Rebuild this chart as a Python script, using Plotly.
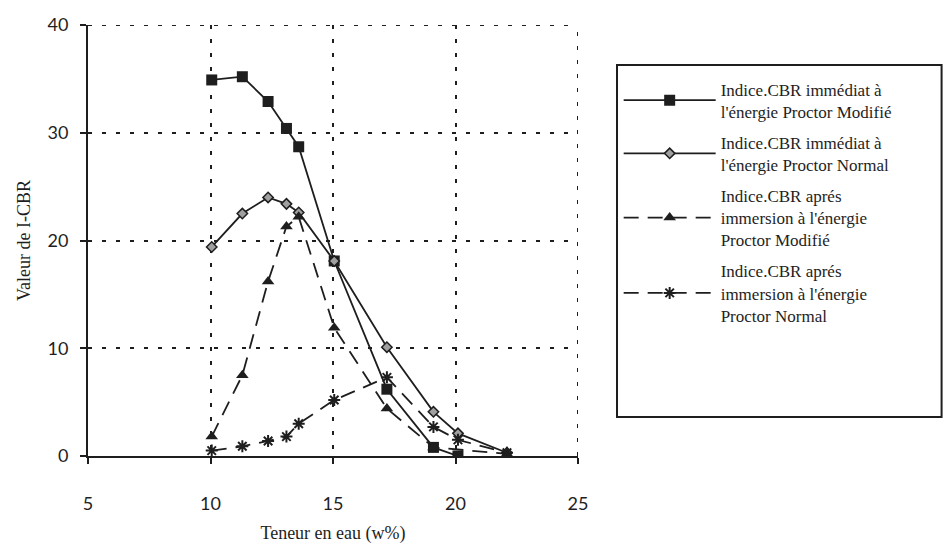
import plotly.graph_objects as go

# Water content (w%) for each series
x_mod_imm = [10.05, 11.3, 12.35, 13.1, 13.6, 15.05, 17.2, 19.1, 20.1]
y_mod_imm = [34.9, 35.2, 32.9, 30.4, 28.7, 18.1, 6.2, 0.8, 0.0]

x_norm_imm = [10.05, 11.3, 12.35, 13.1, 13.6, 15.05, 17.2, 19.1, 20.1, 22.1]
y_norm_imm = [19.4, 22.5, 24.0, 23.4, 22.6, 18.1, 10.1, 4.1, 2.1, 0.3]

x_mod_sat = [10.05, 11.3, 12.35, 13.1, 13.6, 15.05, 17.2, 19.1, 22.1]
y_mod_sat = [1.8, 7.5, 16.2, 21.3, 22.2, 11.9, 4.4, 0.8, 0.2]

x_norm_sat = [10.05, 11.3, 12.35, 13.1, 13.6, 15.05, 17.2, 19.1, 20.1, 22.1]
y_norm_sat = [0.5, 0.9, 1.4, 1.8, 3.0, 5.2, 7.3, 2.7, 1.5, 0.3]

names = [
    "Indice.CBR immédiat à<br>l'énergie Proctor Modifié",
    "Indice.CBR immédiat à<br>l'énergie Proctor Normal",
    "Indice.CBR aprés<br>immersion à l'énergie<br>Proctor Modifié",
    "Indice.CBR aprés<br>immersion à l'énergie<br>Proctor Normal",
]

x_ticks = [5, 10, 15, 20, 25]
y_ticks = [0, 10, 20, 30, 40]

INK = "#1e1e1e"
serif = "Liberation Serif, serif"
sans = "Lato, sans-serif"

fig = go.Figure()
fig.add_trace(go.Scatter(
    x=x_mod_imm, y=y_mod_imm, name=names[0], mode="lines+markers",
    line=dict(color=INK, width=1.8),
    marker=dict(symbol="square", size=11, color=INK),
    legendgroup="a",
))
fig.add_trace(go.Scatter(
    x=x_norm_imm, y=y_norm_imm, name=names[1], mode="lines+markers",
    line=dict(color=INK, width=1.8),
    marker=dict(symbol="diamond", size=8, color="#a0a0a0", line=dict(color=INK, width=1.5)),
    legendgroup="b",
))
fig.add_trace(go.Scatter(
    x=x_mod_sat, y=y_mod_sat, name=names[2], mode="lines+markers",
    line=dict(color=INK, width=1.8, dash="15px,9px"),
    marker=dict(symbol="triangle-up", size=11, color=INK),
    legendgroup="c",
))
fig.add_trace(go.Scatter(
    x=x_norm_sat, y=y_norm_sat, name=names[3], mode="lines+markers",
    line=dict(color=INK, width=1.8, dash="15px,9px"),
    marker=dict(symbol="asterisk-open", size=10, line=dict(color=INK, width=2)),
    legendgroup="d",
))

# legend frame (paper coordinates of the plot area)
fig.add_shape(type="rect", xref="paper", yref="paper",
              x0=1.0796, x1=1.742, y0=0.0905, y1=0.907,
              line=dict(color=INK, width=2), fillcolor="rgba(0,0,0,0)")
# gridlines at the range edges (top and right)
fig.add_shape(type="line", xref="paper", yref="y", x0=0, x1=1, y0=40, y1=40,
              line=dict(color=INK, width=2, dash="4px,10px"))
fig.add_shape(type="line", xref="x", yref="paper", x0=25, x1=25, y0=0, y1=1,
              line=dict(color=INK, width=2, dash="4px,10px"))

fig.update_layout(
    width=945, height=552,
    margin=dict(l=88, r=367, t=25, b=85),
    paper_bgcolor="white", plot_bgcolor="white",
    font=dict(family=serif, color=INK),
    showlegend=True,
    legend=dict(
        x=1.083, y=0.892, xanchor="left", yanchor="top",
        borderwidth=0, bgcolor="rgba(0,0,0,0)",
        font=dict(family=serif, size=17, color=INK),
        tracegroupgap=6, itemwidth=92,
    ),
    xaxis=dict(
        range=[5, 25], tickvals=x_ticks, ticktext=[str(v) for v in x_ticks],
        showline=True, linecolor=INK, linewidth=2,
        ticks="outside", ticklen=6, tickcolor=INK, tickwidth=1.5,
        ticklabelstandoff=24,
        showgrid=True, gridcolor=INK, griddash="4px,10px", gridwidth=2,
        zeroline=False,
        tickfont=dict(family=sans, size=18, color=INK),
        title=dict(text="Teneur en eau (w%)", font=dict(family=serif, size=18, color=INK), standoff=14),
    ),
    yaxis=dict(
        range=[0, 40], tickvals=y_ticks, ticktext=[str(v) for v in y_ticks],
        showline=True, linecolor=INK, linewidth=2,
        ticks="outside", ticklen=6, tickcolor=INK, tickwidth=1.5,
        ticklabelstandoff=8,
        showgrid=True, gridcolor=INK, griddash="4px,10px", gridwidth=2,
        zeroline=False,
        tickfont=dict(family=sans, size=18, color=INK),
        title=dict(text="Valeur de I-CBR", font=dict(family=serif, size=18, color=INK), standoff=12),
    ),
)

fig.write_html("out.html")
